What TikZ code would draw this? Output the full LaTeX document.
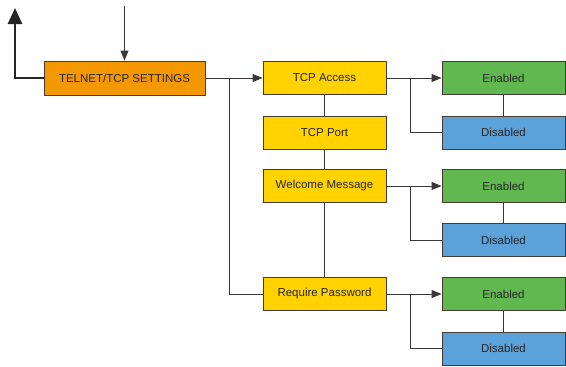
\documentclass[tikz,border=0pt]{standalone}
\usepackage{fontspec}
\setmainfont{Liberation Sans}
\usetikzlibrary{arrows.meta}
\definecolor{orangebox}{RGB}{243,152,0}
\definecolor{yellowbox}{RGB}{255,210,0}
\definecolor{greenbox}{RGB}{98,184,80}
\definecolor{bluebox}{RGB}{92,162,218}
\definecolor{edgec}{RGB}{70,60,50}
\definecolor{linec}{RGB}{60,55,55}
\begin{document}
\begin{tikzpicture}[x=1pt,y=-1pt,
  box/.style={draw=edgec, line width=0.9pt, minimum width=123pt, minimum height=33pt,
    inner sep=0pt, font=\fontsize{11.5}{13}\selectfont, text=black!85},
  orangenode/.style={box, fill=orangebox, minimum width=161pt, minimum height=34pt},
  yellownode/.style={box, fill=yellowbox},
  greennode/.style={box, fill=greenbox},
  bluenode/.style={box, fill=bluebox},
  conn/.style={draw=linec, line width=0.9pt},
  arr/.style={conn, -{Triangle[length=10pt,width=8pt]}},
  bigarr/.style={draw=black!85, line width=2.6pt, -{Triangle[length=16pt,width=14pt]}}
]
\useasboundingbox (0,0) rectangle (566,367);

\node[orangenode] (set) at (124.5,78) {TELNET/TCP SETTINGS};

\node[yellownode] (acc)  at (324.5,78)    {TCP Access};
\node[yellownode] (port) at (324.5,132.5) {TCP Port};
\node[yellownode] (wel)  at (324.5,186)   {Welcome Message};
\node[yellownode] (pw)   at (324.5,294)   {Require Password};

\node[greennode] (en1)  at (503.5,78)    {Enabled};
\node[bluenode]  (dis1) at (503.5,132.5) {Disabled};
\node[greennode] (en2)  at (503.5,186)   {Enabled};
\node[bluenode]  (dis2) at (503.5,240)   {Disabled};
\node[greennode] (en3)  at (503.5,294)   {Enabled};
\node[bluenode]  (dis3) at (503.5,348.5) {Disabled};

% incoming and outgoing arrows of the settings box
\coordinate (topin) at (124.5,6);
\draw[arr] (topin) -- (set.north);
\coordinate (upout) at (15,8);
\draw[bigarr] (set.west) -| (upout);

% settings to yellow boxes
\draw[arr] (set.east) -- (acc.west);
\coordinate (b0) at (229,78);
\draw[conn] (b0) |- (pw.west);

% yellow column
\draw[conn] (acc) -- (port);
\draw[conn] (port) -- (wel);
\draw[conn] (wel) -- (pw);

% options
\foreach \y/\e/\d in {acc/en1/dis1, wel/en2/dis2, pw/en3/dis3}{
  \draw[arr] (\y.east) -- (\e.west);
  \draw[conn] ([xshift=24pt]\y.east) |- (\d.west);
  \draw[conn] (\e) -- (\d);
}
\end{tikzpicture}
\end{document}
